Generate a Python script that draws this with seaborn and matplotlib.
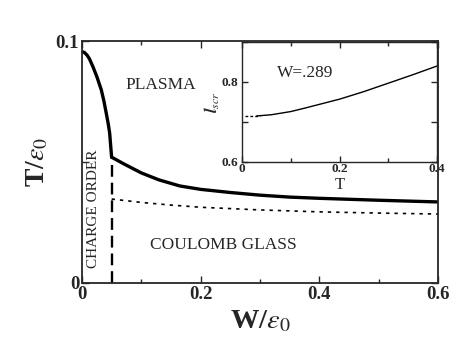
import numpy as np
import pandas as pd
import seaborn as sns
import matplotlib.pyplot as plt
from matplotlib.ticker import FixedLocator

# phase diagram data
w_left = [0, 0.004, 0.0085, 0.0125, 0.0185, 0.0255, 0.0326, 0.037, 0.041, 0.0445, 0.0467, 0.0494, 0.05]
t_left = [0.0956, 0.0953, 0.0942, 0.0927, 0.0894, 0.0850, 0.0798, 0.0752, 0.0701, 0.0655, 0.0619, 0.0537, 0.052]

w_right = [0.05, 0.07, 0.1, 0.13, 0.165, 0.2, 0.25, 0.3, 0.35, 0.4, 0.5, 0.6]
t_right = [0.052, 0.0493, 0.0455, 0.0426, 0.0401, 0.0387, 0.0374, 0.0363, 0.0355, 0.035, 0.0342, 0.0335]

w_glass = [0.05, 0.1, 0.15, 0.2, 0.3, 0.4, 0.5, 0.6]
t_glass = [0.0347, 0.0333, 0.0322, 0.0313, 0.0302, 0.0294, 0.0289, 0.0285]

w_order = [0.05, 0.05]
t_order = [0.0, 0.052]

# inset: screening length vs T at W=.289
t_ins_dot = [0.006, 0.037]
l_ins_dot = [0.716, 0.716]
t_ins = [0.03, 0.06, 0.1, 0.13, 0.2, 0.25, 0.3, 0.35, 0.4]
l_ins = [0.715, 0.718, 0.726, 0.735, 0.757, 0.776, 0.797, 0.818, 0.84]

sns.set_style("ticks")
plt.rcParams['font.family'] = ['Liberation Serif', 'DejaVu Serif']
plt.rcParams['mathtext.fontset'] = 'stix'

fig = plt.figure(figsize=(4.71, 3.59), dpi=100)
ax = fig.add_axes([0.174, 0.2117, 0.756, 0.674])

def line(axis, x, y, lw, ls='-'):
    sns.lineplot(x=x, y=y, ax=axis, color='black', lw=lw, sort=False, estimator=None)
    axis.lines[-1].set_linestyle(ls)

line(ax, w_left, t_left, 2.4)
line(ax, w_right, t_right, 2.4)
line(ax, w_glass, t_glass, 1.2, (0, (2, 3)))
line(ax, w_order, t_order, 1.7, (0, (5, 2.5)))

ax.set_xlim(0, 0.6)
ax.set_ylim(0, 0.1)
ax.xaxis.set_major_locator(FixedLocator([0, 0.2, 0.4, 0.6]))
ax.xaxis.set_minor_locator(FixedLocator([0.1, 0.3, 0.5]))
ax.yaxis.set_major_locator(FixedLocator([0, 0.05, 0.1]))
ax.set_xticklabels(['0', '0.2', '0.4', '0.6'], fontweight='bold', fontsize=13.5)
ax.set_yticklabels(['0', '', '0.1'], fontweight='bold', fontsize=13.5)
ax.tick_params(which='both', direction='in', top=True, right=True, width=1.0)
ax.tick_params(which='major', length=5, pad=2)
ax.tick_params(which='minor', length=3)
for s in ax.spines.values():
    s.set_linewidth(1.3)

ax.set_xlabel(r'W/$\varepsilon_0$', fontsize=20.5, fontweight='bold', labelpad=4)
ax.set_ylabel(r'T/$\varepsilon_0$', fontsize=20, fontweight='bold', labelpad=4)

ax.text(0.132, 0.0818, 'PLASMA', fontsize=12.5, ha='center', va='center')
ax.text(0.239, 0.0158, 'COULOMB GLASS', fontsize=12.5, ha='center', va='center')
ax.text(0.019, 0.0305, 'CHARGE ORDER', fontsize=11, rotation=90, ha='center', va='center')

# inset
axi = fig.add_axes([0.514, 0.549, 0.414, 0.334])
line(axi, t_ins_dot, l_ins_dot, 1.0, (0, (2, 1.5)))
line(axi, t_ins, l_ins, 1.0)
axi.set_xlim(0, 0.4)
axi.set_ylim(0.6, 0.9)
axi.xaxis.set_major_locator(FixedLocator([0, 0.2, 0.4]))
axi.xaxis.set_minor_locator(FixedLocator([0.1, 0.3]))
axi.yaxis.set_major_locator(FixedLocator([0.6, 0.7, 0.8, 0.9]))
axi.set_xticklabels(['0', '0.2', '0.4'], fontweight='bold', fontsize=9.5)
axi.set_yticklabels(['0.6', '', '0.8', ''], fontweight='bold', fontsize=9.5)
axi.tick_params(which='both', direction='in', top=True, right=True, width=1.0)
axi.tick_params(axis='x', which='both', pad=1)
axi.tick_params(axis='y', which='both', pad=2.5)
axi.tick_params(which='major', length=4)
axi.tick_params(which='minor', length=3)
for s in axi.spines.values():
    s.set_linewidth(1.0)
axi.set_xlabel('T', fontsize=12, labelpad=1)
axi.set_ylabel(r'$\boldsymbol{l}_{scr}$', fontsize=12, labelpad=0)
axi.text(0.13, 0.822, 'W=.289', fontsize=12.5, ha='center', va='center')
axi.patch.set_facecolor('white')

fig.savefig('out.png', dpi=100)
